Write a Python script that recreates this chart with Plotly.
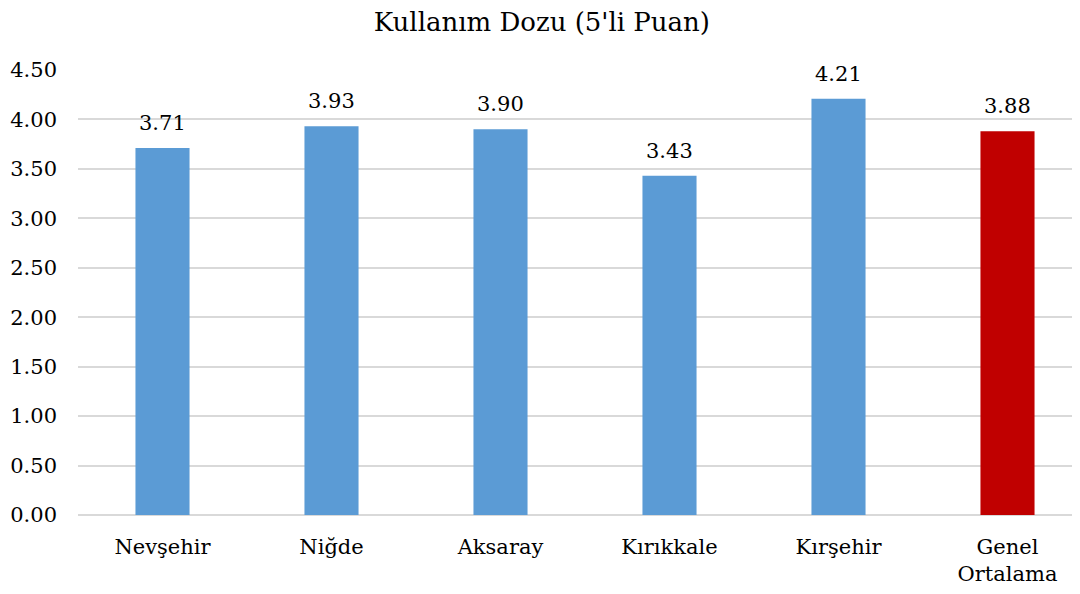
import plotly.graph_objects as go

categories = ["Nevşehir", "Niğde", "Aksaray", "Kırıkkale", "Kırşehir", "Genel<br>Ortalama"]
values = [3.71, 3.93, 3.90, 3.43, 4.21, 3.88]
colors = ["#5B9BD5"] * 5 + ["#C00000"]
tick_vals = [0, 0.5, 1, 1.5, 2, 2.5, 3, 3.5, 4, 4.5]
tick_text = ["%.2f" % v for v in tick_vals]

font_family = "DejaVu Serif"
fs = 21

fig = go.Figure(go.Bar(
    x=categories, y=values,
    marker=dict(color=colors, line=dict(width=0)),
    width=0.32,
    cliponaxis=False,
))

for c, v in zip(categories, values):
    fig.add_annotation(x=c, y=v, text="%.2f" % v, showarrow=False,
                       yanchor="bottom", yshift=11,
                       font=dict(family=font_family, size=fs, color="#000000"))

fig.update_layout(
    width=1084, height=586,
    margin=dict(l=70, r=0, t=62, b=79),
    paper_bgcolor="white", plot_bgcolor="white",
    title=dict(text="Kullanım Dozu (5'li Puan)", x=0.4925, xanchor="center",
               y=0.976, yanchor="middle",
               font=dict(family=font_family, size=26, color="#000000")),
    font=dict(family=font_family, size=fs, color="#000000"),
    showlegend=False,
)
fig.update_yaxes(range=[0, 4.5], tickvals=tick_vals, ticktext=tick_text,
                 showgrid=True, gridcolor="#D9D9D9", gridwidth=1.5,
                 zeroline=True, zerolinecolor="#D9D9D9", zerolinewidth=1.5,
                 showline=False, ticks="", ticklabelstandoff=20, automargin=False,
                 tickfont=dict(family=font_family, size=fs, color="#000000"))
fig.update_xaxes(showgrid=False, showline=False, ticks="", automargin=False,
                 ticklabelstandoff=17,
                 tickfont=dict(family=font_family, size=fs, color="#000000"))

fig.write_html("out.html")
